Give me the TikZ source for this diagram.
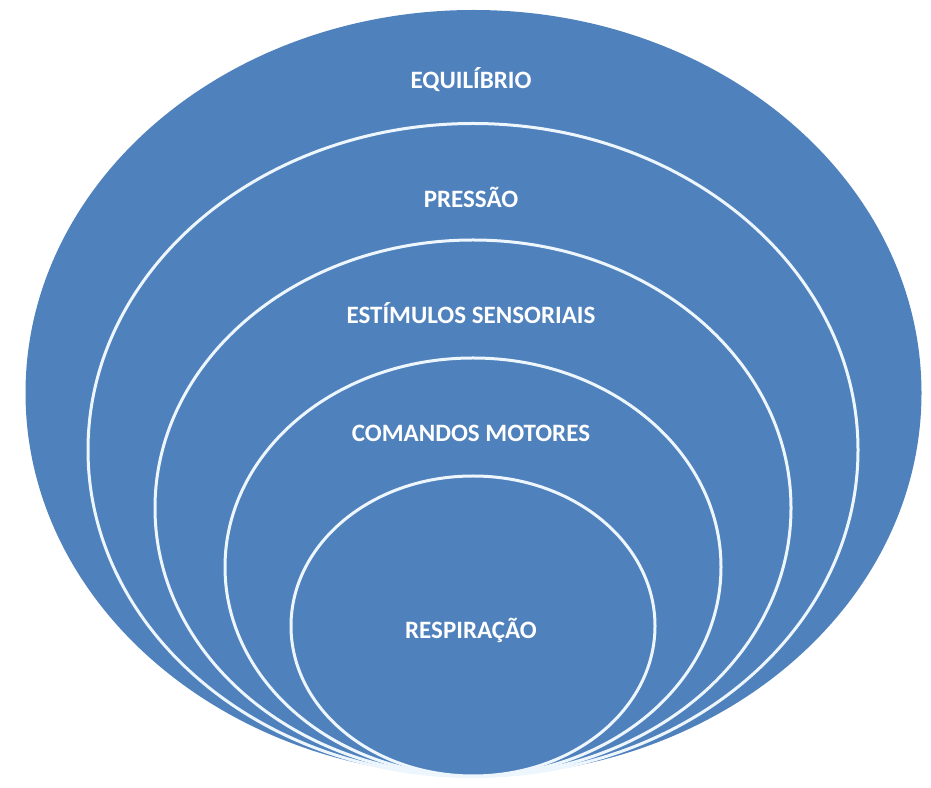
\documentclass[tikz,border=0pt]{standalone}
\usepackage{fontspec}
\setmainfont{Carlito}
\definecolor{ringblue}{RGB}{79,129,189}
\definecolor{ringline}{RGB}{236,246,252}
\tikzset{
  ring/.style={fill=ringblue, draw=ringline, line width=3pt},
  ringlabel/.style={text=white, font=\bfseries\fontsize{25}{30}\selectfont, inner sep=0pt}
}
\begin{document}
\begin{tikzpicture}[x=1pt,y=1pt]
    \useasboundingbox (0,0) rectangle (931,787);

    % Rings (outer first)
    \fill[ringblue] (473.5,394) ellipse (448 and 383);
    \draw[ring] (473,337) ellipse (385 and 326.5);
    \draw[ring] (473,279) ellipse (318 and 268);
    \draw[ring] (473,220) ellipse (248 and 209);
    \draw[ring] (473,161) ellipse (182 and 150);

    % Labels
    \node[ringlabel] (equilibrio) at (471,707) {EQUILÍBRIO};
    \node[ringlabel] (pressao) at (471,590) {PRESSÃO};
    \node[ringlabel] (estimulos) at (471,474) {ESTÍMULOS SENSORIAIS};
    \node[ringlabel] (comandos) at (471,354) {COMANDOS MOTORES};
    \node[ringlabel] (respiracao) at (471,157) {RESPIRAÇÃO};
\end{tikzpicture}
\end{document}
